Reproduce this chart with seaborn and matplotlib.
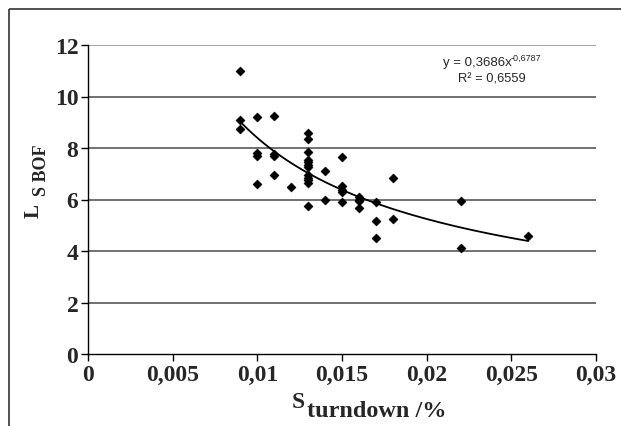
import numpy as np
import pandas as pd
import matplotlib
matplotlib.use("Agg")
import matplotlib.pyplot as plt
import seaborn as sns
from matplotlib.lines import Line2D

# ---- data ----
x_vals = [0.009, 0.009, 0.009,
          0.010, 0.010, 0.010, 0.010,
          0.011, 0.011, 0.011, 0.011,
          0.012,
          0.013, 0.013, 0.013, 0.013, 0.013, 0.013, 0.013, 0.013, 0.013, 0.013, 0.013, 0.013,
          0.014, 0.014,
          0.015, 0.015, 0.015, 0.015, 0.015,
          0.016, 0.016, 0.016, 0.016,
          0.017, 0.017, 0.017,
          0.018, 0.018,
          0.022, 0.022,
          0.026]
y_vals = [11.0, 9.1, 8.75,
          9.2, 7.8, 7.7, 6.6,
          9.25, 7.75, 7.7, 6.95,
          6.47,
          8.6, 8.35, 7.85, 7.55, 7.45, 7.35, 7.25, 6.95, 6.85, 6.75, 6.65, 5.75,
          7.1, 5.98,
          7.65, 6.52, 6.35, 6.28, 5.9,
          6.08, 6.0, 5.95, 5.68,
          5.9, 5.15, 4.5,
          6.85, 5.25,
          5.95, 4.12,
          4.58]
fit_a = 0.3686
fit_b = -0.6787
eq_text = "y = 0,3686x"
eq_exp = "-0,6787"
r2_text = "R² = 0,6559"
x_ticks = [0, 0.005, 0.01, 0.015, 0.02, 0.025, 0.03]
x_tick_labels = ["0", "0,005", "0,01", "0,015", "0,02", "0,025", "0,03"]
y_ticks = [0, 2, 4, 6, 8, 10, 12]
y_tick_labels = ["0", "2", "4", "6", "8", "10", "12"]

df = pd.DataFrame({"x": x_vals, "y": y_vals})
fit_x = np.linspace(min(x_vals), max(x_vals), 100)
fit_df = pd.DataFrame({"x": fit_x, "y": fit_a * fit_x ** fit_b})

sns.set_style("white")
W, H = 621, 427
fig = plt.figure(figsize=(W / 100, H / 100), dpi=100)
fig.patch.set_edgecolor("white")
fig.patch.set_linewidth(0)

def fx(px):
    return px / W

def fy(py):
    return 1 - py / H

ax = fig.add_axes([fx(88), fy(355), (596 - 88) / W, (355 - 46) / H])

# outer chart border (top and left edges only visible)
fig.add_artist(Line2D([fx(9), 1.05], [fy(10), fy(10)], transform=fig.transFigure,
                      color="#333333", lw=1.2, solid_capstyle="butt"))
fig.add_artist(Line2D([fx(9), fx(9)], [fy(10), -0.05], transform=fig.transFigure,
                      color="#333333", lw=1.2, solid_capstyle="butt"))

ax.set_xlim(0, 0.03)
ax.set_ylim(0, 12)
for yv in y_ticks[1:]:
    ax.axhline(yv, color="#8a8a8a" if yv == 12 else "#4a4a4a", lw=1.1, zorder=0)

sns.lineplot(data=fit_df, x="x", y="y", ax=ax, color="black", lw=1.3, zorder=2)
sns.scatterplot(data=df, x="x", y="y", ax=ax, marker="D", s=22, color="black",
                edgecolor="black", linewidth=0.3, zorder=3)

for s in ["top", "right"]:
    ax.spines[s].set_visible(False)
for s in ["left", "bottom"]:
    ax.spines[s].set_color("black")
    ax.spines[s].set_linewidth(1.0)

ax.set_xticks(x_ticks)
ax.set_xticklabels(x_tick_labels, fontfamily="Liberation Serif", fontweight="bold", fontsize=17)
ax.set_yticks(y_ticks)
ax.set_yticklabels(y_tick_labels, fontfamily="Liberation Serif", fontweight="bold", fontsize=17)
ax.tick_params(axis="both", direction="out", length=5, width=1, color="black", pad=2,
               bottom=True, left=True)
ax.set_xlabel("")
ax.set_ylabel("")

# x label: S with subscript "turndown /%"
fig.text(fx(292), fy(408), "S", fontfamily="Liberation Serif", fontweight="bold",
         fontsize=17, ha="left", va="baseline")
fig.text(fx(307), fy(417), "turndown /%", fontfamily="Liberation Serif", fontweight="bold",
         fontsize=17.5, ha="left", va="baseline")

# y label: L with subscript "S BOF" (rotated)
fig.text(fx(44), fy(218), "L", fontfamily="Liberation Serif", fontweight="bold",
         fontsize=15, rotation=90, ha="right", va="bottom")
fig.text(fx(50), fy(196), "S BOF", fontfamily="Liberation Serif", fontweight="bold",
         fontsize=13, rotation=90, ha="right", va="bottom")

# trendline equation
fig.text(fx(443), fy(66), eq_text, fontfamily="Liberation Sans", fontsize=9.5,
         ha="left", va="baseline")
fig.text(fx(511), fy(61), eq_exp, fontfamily="Liberation Sans", fontsize=6.5,
         ha="left", va="baseline")
fig.text(fx(492), fy(82), r2_text, fontfamily="Liberation Sans", fontsize=9.3,
         ha="center", va="baseline")

fig.savefig("out.png", dpi=100)
